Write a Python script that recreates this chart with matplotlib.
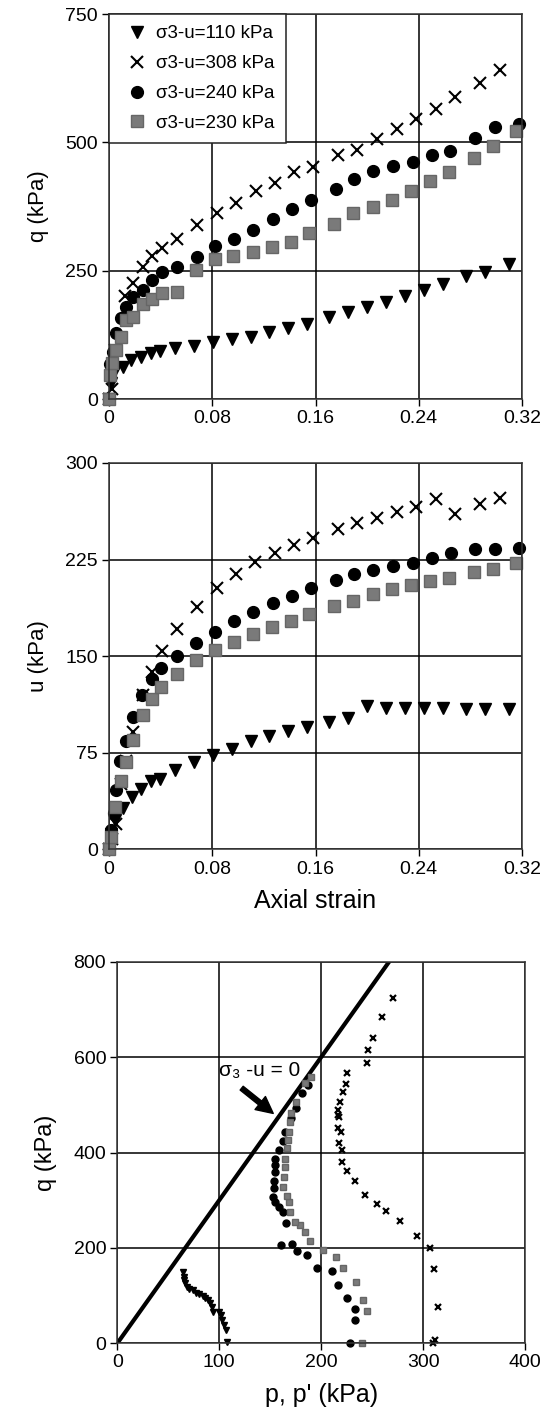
import numpy as np
import matplotlib.pyplot as plt

plt.rcParams['font.family'] = ['Liberation Sans', 'DejaVu Sans']

# --- q vs axial strain (top) ---
eps_110 = [0, 0.0018, 0.0044, 0.0109, 0.0173, 0.0251, 0.0328, 0.0393, 0.051, 0.0657, 0.0807, 0.0949, 0.1097,
           0.1242, 0.1384, 0.1531, 0.1707, 0.1855, 0.2002, 0.2147, 0.2295, 0.2437, 0.2584, 0.2768, 0.2915, 0.3097]
q_110 = [0, 31, 56, 63, 76, 81, 90, 94, 100, 104, 112, 117, 120,
         131, 138, 147, 160, 170, 179, 189, 201, 212, 225, 240, 248, 264]

eps_308 = [0, 0.002, 0.005, 0.0122, 0.0186, 0.0264, 0.0336, 0.0414, 0.053, 0.0678, 0.0833, 0.098, 0.1136,
           0.1286, 0.1433, 0.1583, 0.1772, 0.1925, 0.2075, 0.223, 0.2377, 0.2533, 0.2683, 0.2871, 0.3027]
q_308 = [0, 20, 95, 201, 226, 258, 279, 294, 312, 339, 363, 381, 406,
         420, 442, 453, 475, 486, 506, 527, 545, 566, 588, 616, 641]

eps_240 = [0, 0.0005, 0.0031, 0.0057, 0.0096, 0.0135, 0.0186, 0.0264, 0.0336, 0.0414, 0.053, 0.0678, 0.0825, 0.097,
           0.1118, 0.1268, 0.142, 0.1565, 0.1757, 0.1901, 0.2049, 0.2204, 0.2352, 0.2502, 0.2644, 0.2838, 0.2988, 0.3174]
q_240 = [0, 69, 92, 128, 157, 180, 199, 213, 232, 248, 258, 277, 298, 311,
         329, 351, 371, 388, 410, 428, 444, 454, 462, 475, 484, 509, 530, 536]

eps_230 = [0, 0.0005, 0.002, 0.0057, 0.0096, 0.0135, 0.0186, 0.0264, 0.0336, 0.0414, 0.0523, 0.0673, 0.082, 0.0962,
           0.1112, 0.126, 0.141, 0.1552, 0.1746, 0.1894, 0.2044, 0.2194, 0.2339, 0.2489, 0.2636, 0.2825, 0.2972, 0.3156]
q_230 = [0, 47, 70, 95, 121, 154, 160, 185, 194, 206, 208, 251, 272, 279,
         287, 297, 305, 323, 341, 362, 374, 387, 406, 424, 442, 470, 493, 522]

# --- u vs axial strain (middle) ---
eps_110u = [0, 0.0018, 0.0044, 0.0109, 0.0181, 0.0251, 0.0328, 0.0393, 0.051, 0.0657, 0.0807, 0.0949, 0.1097,
            0.1242, 0.1384, 0.1531, 0.1707, 0.1855, 0.2002, 0.2147, 0.2295, 0.2437, 0.2584, 0.2768, 0.2915, 0.3097]
u_110 = [0, 12, 23, 32, 41, 47, 53, 55, 62, 68, 73, 78, 84,
         88, 92, 95, 99, 102, 111, 110, 110, 110, 110, 109, 109, 109]

eps_308u = [0, 0.002, 0.0057, 0.0096, 0.0135, 0.0186, 0.0264, 0.0336, 0.0414, 0.053, 0.0678, 0.0833, 0.098,
            0.113, 0.1286, 0.1433, 0.1583, 0.1772, 0.1925, 0.2075, 0.223, 0.2377, 0.2533, 0.2683, 0.2871, 0.3027]
u_308 = [0, 8, 20, 51, 69, 91, 120, 138, 154, 171, 188, 203, 214,
         223, 230, 236, 242, 249, 253, 257, 262, 266, 272, 260, 268, 273]

eps_240u = [0, 0.0018, 0.0036, 0.0057, 0.0088, 0.0135, 0.0186, 0.0259, 0.0336, 0.0406, 0.0523, 0.0673, 0.082, 0.097,
            0.1118, 0.1268, 0.142, 0.1565, 0.1757, 0.1901, 0.2049, 0.2204, 0.2352, 0.2502, 0.2649, 0.2838, 0.2988, 0.3174]
u_240 = [0, 15, 28, 46, 69, 84, 103, 120, 132, 141, 150, 160, 169, 177,
         184, 191, 197, 203, 209, 214, 217, 220, 222, 226, 230, 233, 233, 234]

eps_230u = [0, 0.0018, 0.0044, 0.0096, 0.0135, 0.0186, 0.0264, 0.0336, 0.0406, 0.0523, 0.0673, 0.082, 0.0967,
            0.1118, 0.126, 0.141, 0.1552, 0.1746, 0.1894, 0.2044, 0.2194, 0.2339, 0.2489, 0.2636, 0.2825, 0.2972, 0.3156]
u_230 = [0, 10, 33, 53, 68, 85, 104, 117, 126, 136, 147, 155, 161,
         167, 173, 177, 183, 189, 193, 198, 202, 205, 208, 211, 215, 218, 222]

# --- stress paths q vs p' (bottom) ---
p_110 = [108, 106.5, 104.9, 103.2, 101.7, 100, 93.5, 92.9, 90.9, 88.6, 86.4, 83.7, 80.5, 77.3, 74, 70.8,
         68.2, 66.9, 65.6, 65, 64.6]
pq_110 = [3, 28, 38, 49, 60, 66, 66, 77, 84, 90, 95, 100, 104, 106, 111, 114,
          119, 126, 133, 140, 149]

p_308 = [310, 312, 315, 311, 307, 294, 277, 264, 254.5, 243, 233, 225, 220.1, 220.1, 217.8, 219.5, 216.8,
         217.8, 216.2, 216.8, 218.5, 221.7, 224, 225, 245, 246, 250.5, 260, 270]
pq_308 = [0, 7, 77, 155, 199, 225, 257, 278, 292, 311, 341, 362, 381, 405, 420, 444, 451,
          474, 479, 489, 506, 527, 544, 566, 588, 615, 641, 685, 724]

p_240 = [228.2, 233.1, 233.1, 225, 216.2, 211, 196.4, 186, 176.2, 171.4, 161, 165.5, 162.3, 158.4, 155.2,
         152.6, 153.6, 153.6, 154.5, 154.5, 154.5, 159.1, 162.3, 164.9, 170.4, 175.6, 181.1, 186.7]
pq_240 = [0, 49, 73, 94, 122, 152, 157, 185, 194, 208, 207, 252, 276, 286, 297,
          307, 325, 341, 360, 374, 386, 405, 425, 444, 472, 493, 524, 542]

p_230 = [240.4, 245.3, 241.4, 233.7, 221.7, 214.2, 201.6, 189.3, 183.7, 179.6, 174, 169.8, 168.8, 166.5,
         162.3, 163.6, 164.3, 164.3, 166.5, 167.5, 168.8, 169.8, 170.4, 175.3, 184.4, 189.9]
pq_230 = [0, 68, 90, 129, 157, 180, 196, 215, 233, 248, 255, 276, 297, 309,
          327, 349, 369, 386, 409, 426, 444, 465, 483, 507, 545, 559]

labels = ['σ3-u=110 kPa', 'σ3-u=308 kPa', 'σ3-u=240 kPa', 'σ3-u=230 kPa']
GREY = '#7a7a7a'


def style_axes(ax, xticks, yticks, xlabels, ylabel, xlabel=None, lab_fs=16):
    ax.set_xlim(xticks[0], xticks[-1])
    ax.set_ylim(yticks[0], yticks[-1])
    ax.set_xticks(xticks)
    ax.set_xticklabels(xlabels)
    ax.set_yticks(yticks)
    ax.grid(True, color='black', lw=1.1)
    ax.set_axisbelow(True)
    ax.tick_params(direction='out', length=5, width=1, labelsize=14, pad=3)
    for s in ax.spines.values():
        s.set_color('#333333')
        s.set_linewidth(1.1)
    ax.set_ylabel(ylabel, fontsize=lab_fs, labelpad=12)
    if xlabel:
        ax.set_xlabel(xlabel, fontsize=18, labelpad=8)


fig = plt.figure(figsize=(5.52, 14.2), dpi=100)

# top panel
ax1 = fig.add_axes([0.1975, 0.7190, 0.7482, 0.2711])
ax1.plot(eps_110, q_110, 'v', color='black', ms=8, ls='none', clip_on=False, label=labels[0])
ax1.plot(eps_308, q_308, 'x', color='black', ms=9, mew=1.5, ls='none', clip_on=False, label=labels[1])
ax1.plot(eps_240, q_240, 'o', color='black', ms=8.5, ls='none', clip_on=False, label=labels[2])
ax1.plot(eps_230, q_230, 's', color=GREY, mec='#666666', ms=8, ls='none', clip_on=False, label=labels[3])
style_axes(ax1, [0, 0.08, 0.16, 0.24, 0.32], [0, 250, 500, 750],
           ['0', '0.08', '0.16', '0.24', '0.32'], 'q (kPa)')
leg = ax1.legend(loc='upper left', bbox_to_anchor=(0, 1), borderaxespad=0, fontsize=13.5,
                 fancybox=False, framealpha=1, edgecolor='#222222', handlelength=1.8,
                 handletextpad=0.1, borderpad=0.6, labelspacing=0.68)
leg.get_frame().set_linewidth(1.1)

# middle panel
ax2 = fig.add_axes([0.1975, 0.4018, 0.7482, 0.2722])
ax2.plot(eps_110u, u_110, 'v', color='black', ms=8, ls='none', clip_on=False)
ax2.plot(eps_308u, u_308, 'x', color='black', ms=9, mew=1.5, ls='none', clip_on=False)
ax2.plot(eps_240u, u_240, 'o', color='black', ms=8.5, ls='none', clip_on=False)
ax2.plot(eps_230u, u_230, 's', color=GREY, mec='#666666', ms=8, ls='none', clip_on=False)
style_axes(ax2, [0, 0.08, 0.16, 0.24, 0.32], [0, 75, 150, 225, 300],
           ['0', '0.08', '0.16', '0.24', '0.32'], 'u (kPa)', xlabel='Axial strain')

# bottom panel
ax3 = fig.add_axes([0.2125, 0.0540, 0.7386, 0.2687])
p_line = np.array([0, 400])
ax3.plot(p_line, 3 * p_line, color='black', lw=3)
ax3.plot(p_110, pq_110, 'v', color='black', ms=4, ls='none', clip_on=False)
ax3.plot(p_308, pq_308, 'x', color='black', ms=4.5, mew=1.6, ls='none', clip_on=False)
ax3.plot(p_240, pq_240, 'o', color='black', ms=5, ls='none', clip_on=False)
ax3.plot(p_230, pq_230, 's', color=GREY, mec='#666666', ms=4.5, ls='none', clip_on=False)
style_axes(ax3, [0, 100, 200, 300, 400], [0, 200, 400, 600, 800],
           ['0', '100', '200', '300', '400'], 'q (kPa)', xlabel="p, p' (kPa)", lab_fs=17)
ax3.annotate('', xy=(153, 482), xytext=(122, 535),
             arrowprops=dict(facecolor='black', edgecolor='black', width=3.5, headwidth=12,
                             headlength=12, shrink=0))
ax3.text(100, 573, 'σ₃ -u = 0', fontsize=15, ha='left', va='center')

fig.savefig('out.png', dpi=100)
